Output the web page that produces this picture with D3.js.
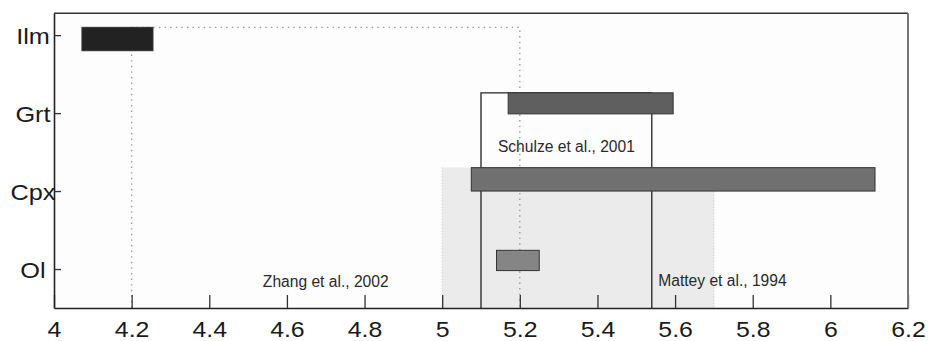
<!DOCTYPE html>
<html>
<head>
<meta charset="utf-8">
<script src="https://cdn.jsdelivr.net/npm/d3@7"></script>
<style>
  html, body { margin: 0; padding: 0; background: #fff; }
  svg { display: block; }
  text { font-family: "Liberation Sans", Arial, sans-serif; }
</style>
</head>
<body>
<svg id="chart" width="928" height="341"></svg>
<script>
// Mineral oxygen isotope ranges (δ18O, ‰)
const minerals = ["Ol", "Cpx", "Grt", "Ilm"];
const rangeLow  = [5.14, 5.075, 5.17, 4.072];
const rangeHigh = [5.25, 6.115, 5.595, 4.255];

// Reference ranges from the literature
const zhangRange   = [4.2, 5.2];   // Zhang et al., 2002
const schulzeRange = [5.10, 5.54]; // Schulze et al., 2001
const matteyRange  = [5.0, 5.7];   // Mattey et al., 1994

const xTicks = [4, 4.2, 4.4, 4.6, 4.8, 5, 5.2, 5.4, 5.6, 5.8, 6, 6.2];

// bar vertical extent relative to each category position
const barSpan = { Ol: [-0.02, 0.24], Cpx: [0, 0.3], Grt: [-0.01, 0.26], Ilm: [-0.2, 0.1] };
const barFill = { Ol: "#858585", Cpx: "#707070", Grt: "#5f5f5f", Ilm: "#222222" };

const svg = d3.select("#chart");
const plotL = 54, plotR = 908, plotT = 13.3, plotB = 308;

const x = d3.scaleLinear().domain([4, 6.2]).range([plotL, plotR]);
const y = d3.scaleLinear().domain([0.5, 4.28]).range([plotB, plotT]);
const pos = d => minerals.indexOf(d) + 1;

const bars = minerals.map((m, i) => ({ m, lo: rangeLow[i], hi: rangeHigh[i],
  y0: pos(m) + barSpan[m][0], y1: pos(m) + barSpan[m][1] }));
const barOf = m => bars.find(b => b.m === m);

// plot frame
svg.append("rect").attr("x", plotL).attr("y", plotT)
  .attr("width", plotR - plotL).attr("height", plotB - plotT)
  .attr("fill", "#fdfdfd");

// Mattey et al. shaded band
const mTop = y(barOf("Cpx").y1);
svg.append("rect")
  .attr("x", x(matteyRange[0])).attr("width", x(matteyRange[1]) - x(matteyRange[0]))
  .attr("y", mTop).attr("height", plotB - mTop)
  .attr("fill", "#ebebeb");
matteyRange.forEach(v => {
  svg.append("line").attr("x1", x(v)).attr("x2", x(v))
    .attr("y1", mTop).attr("y2", plotB)
    .attr("stroke", "#c4c4c4").attr("stroke-width", 1).attr("stroke-dasharray", "1,2");
});

// Schulze et al. open box
const sTop = y(barOf("Grt").y1);
svg.append("path")
  .attr("d", `M${x(schulzeRange[0])},${plotB}V${sTop}H${x(schulzeRange[1])}V${plotB}`)
  .attr("fill", "none").attr("stroke", "#222").attr("stroke-width", 1.3);

// Zhang et al. dotted bracket
const zTop = y(barOf("Ilm").y1);
svg.append("path")
  .attr("d", `M${x(zhangRange[0])},${plotB}V${zTop}H${x(zhangRange[1])}V${plotB}`)
  .attr("fill", "none").attr("stroke", "#9a9a9a").attr("stroke-width", 1.4)
  .attr("stroke-dasharray", "1.4,4.2");

// mineral bars
svg.append("g").selectAll("rect").data(bars).join("rect")
  .attr("x", d => x(d.lo)).attr("width", d => x(d.hi) - x(d.lo))
  .attr("y", d => y(d.y1)).attr("height", d => y(d.y0) - y(d.y1))
  .attr("fill", d => barFill[d.m]).attr("stroke", "#333").attr("stroke-width", 1);

// source labels
const notes = [
  { t: "Zhang et al., 2002",   x: d3.mean(zhangRange), y: 0.77 },
  { t: "Schulze et al., 2001", x: d3.mean(schulzeRange), y: 2.5 },
  { t: "Mattey et al., 1994",  x: 5.722, y: 0.78 }
];
svg.append("g").selectAll("text").data(notes).join("text")
  .attr("x", d => x(d.x)).attr("y", d => y(d.y))
  .attr("text-anchor", "middle").attr("font-size", 15.6).attr("fill", "#2a2a2a")
  .text(d => d.t);

// x axis (ticks pointing into the plot)
const xAxis = svg.append("g").attr("transform", `translate(0,${plotB})`)
  .call(d3.axisBottom(x).tickValues(xTicks).tickSizeInner(-13).tickSizeOuter(0)
    .tickFormat(d => String(+d.toFixed(1))));
xAxis.select(".domain").attr("stroke", "#222").attr("stroke-width", 1.6);
xAxis.selectAll(".tick line").attr("stroke", "#333").attr("stroke-width", 1.3);
xAxis.selectAll(".tick text").attr("y", 29.5).attr("dy", 0)
  .attr("font-size", 22).attr("fill", "#1a1a1a")
  .attr("transform", "scale(1.13,1)");

// y axis (category ticks)
const yAxis = svg.append("g").attr("transform", `translate(${plotL},0)`)
  .call(d3.axisLeft(y).tickValues(minerals.map(pos)).tickSizeInner(-7).tickSizeOuter(0)
    .tickFormat(v => minerals[v - 1]));
yAxis.select(".domain").attr("stroke", "#222").attr("stroke-width", 1.6);
yAxis.selectAll(".tick line").attr("stroke", "#333").attr("stroke-width", 1.3);
yAxis.selectAll(".tick text").attr("x", 0).attr("dy", 0).attr("y", 8)
  .attr("text-anchor", "middle").attr("font-size", 22).attr("fill", "#1a1a1a")
  .attr("transform", "translate(-21,0) scale(1.15,1)");

// top and right borders
svg.append("line").attr("x1", plotL).attr("x2", plotR).attr("y1", plotT).attr("y2", plotT)
  .attr("stroke", "#333").attr("stroke-width", 1.6);
svg.append("line").attr("x1", plotR).attr("x2", plotR).attr("y1", plotT).attr("y2", plotB)
  .attr("stroke", "#777").attr("stroke-width", 2);
</script>
</body>
</html>
